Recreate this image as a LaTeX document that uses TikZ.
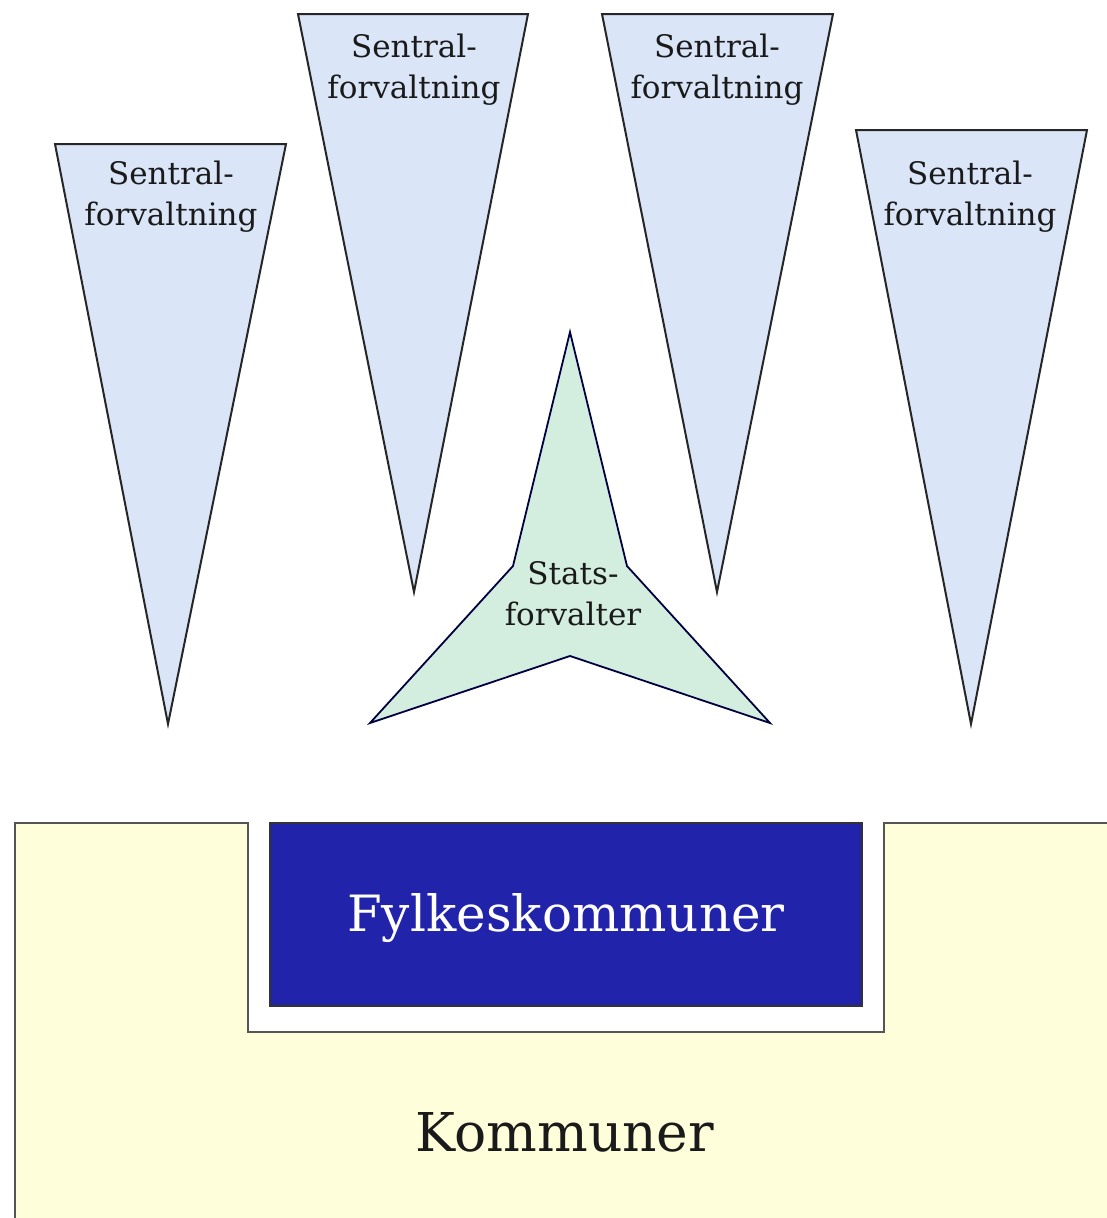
\documentclass[tikz,border=0pt]{standalone}
\usepackage{fontspec}
\setmainfont{DejaVu Serif}
\definecolor{triblue}{HTML}{DAE5F8}
\definecolor{stargreen}{HTML}{D3EEDF}
\definecolor{kommyellow}{HTML}{FEFEDA}
\definecolor{fylkeblue}{HTML}{2124AB}
\definecolor{edgegray}{HTML}{555555}
\definecolor{textdark}{HTML}{1A1A1A}
\begin{document}
\begin{tikzpicture}[x=1pt,y=-1pt,
  tri/.style={draw=black!85,fill=triblue,line width=2pt,line join=miter},
  starshape/.style={draw=black!75!blue,fill=stargreen,line width=1.8pt,line join=miter},
  smalltext/.style={align=center,text=textdark,font=\fontsize{31}{41}\selectfont,inner sep=0pt},
  bigtext/.style={inner sep=0pt}
]
\useasboundingbox (0,0) rectangle (1107,1218);
% triangles
\draw[tri] (55,144) -- (286,144) -- (168,724) -- cycle;
\draw[tri] (298,14) -- (528,14) -- (414,592) -- cycle;
\draw[tri] (602,14) -- (833,14) -- (717,592) -- cycle;
\draw[tri] (856,130) -- (1087,130) -- (971,724) -- cycle;
% star
\draw[starshape] (570,332) -- (627,566) -- (770,723) -- (570,656) -- (370,723) -- (513,566) -- cycle;
% kommuner
\draw[fill=kommyellow,draw=edgegray,line width=2.5pt]
  (15,1230) -- (15,823) -- (248,823) -- (248,1032) -- (884,1032) -- (884,823) -- (1120,823) -- (1120,1230) -- cycle;
% fylkeskommuner
\draw[fill=fylkeblue,draw=black!80,line width=2.2pt] (270,823) rectangle (862,1006);
% texts
\node[smalltext] (s1) at (171,197) {Sentral-\\forvaltning};
\node[smalltext] (s2) at (414,70) {Sentral-\\forvaltning};
\node[smalltext] (s3) at (717,70) {Sentral-\\forvaltning};
\node[smalltext] (s4) at (970,197) {Sentral-\\forvaltning};
\node[smalltext] (sf) at (573,594) {Stats-\\forvalter};
\node[bigtext,text=white,font=\fontsize{50}{60}\selectfont] (fk) at (566,918) {Fylkeskommuner};
\node[bigtext,text=textdark,font=\fontsize{53.5}{60}\selectfont] (k) at (565,1132) {Kommuner};
\end{tikzpicture}
\end{document}
